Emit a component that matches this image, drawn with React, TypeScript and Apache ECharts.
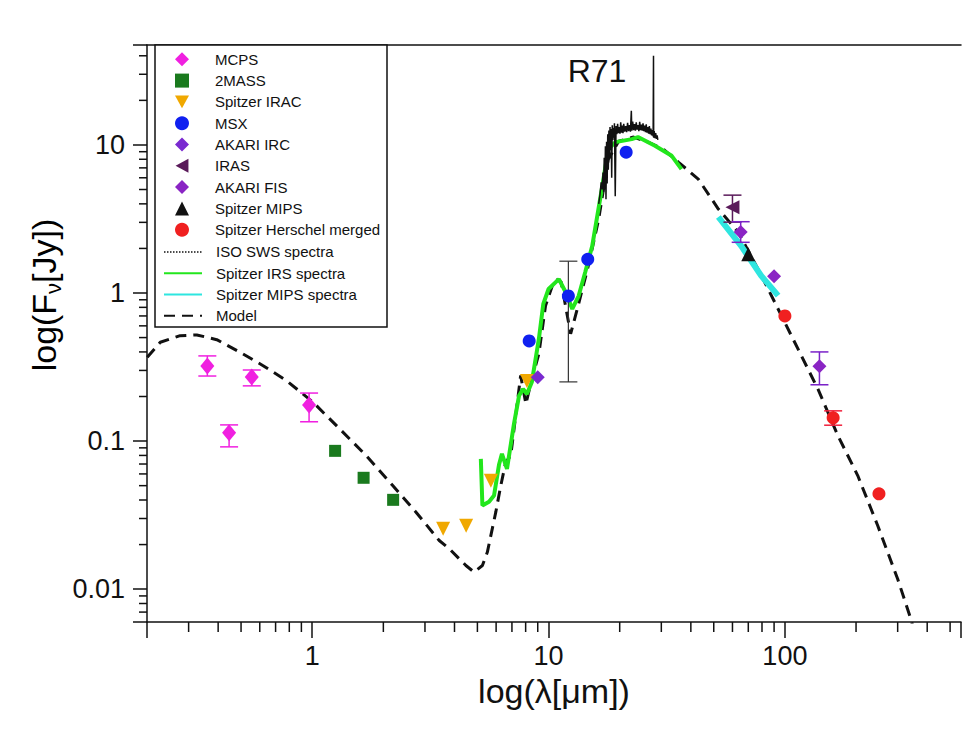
import React, { useEffect, useRef } from "react";
import * as echarts from "echarts";

// ---- axis ranges ----
const X_MIN = 0.2;
const X_MAX = 556;
const Y_MIN = 0.006;
const Y_MAX = 47.3;

// ---- photometry (wavelength in micron, flux in Jy) ----
const mcpsWave = [0.36, 0.445, 0.555, 0.97];
const mcpsFlux = [0.322, 0.114, 0.271, 0.175];
const mcpsLow = [0.275, 0.0914, 0.236, 0.135];
const mcpsHigh = [0.376, 0.1286, 0.302, 0.211];

const twomassWave = [1.25, 1.65, 2.2];
const twomassFlux = [0.0859, 0.0565, 0.0401];

const iracWave = [3.58, 4.48, 5.7, 8.1];
const iracFlux = [0.0256, 0.0268, 0.054, 0.255];

const msxWave = [8.28, 12.13, 14.65, 21.3];
const msxFlux = [0.475, 0.955, 1.69, 8.94];
const msxLow = [null, 0.251, null, null];
const msxHigh = [null, 1.64, null, null];

const akariIrcWave = [9.0];
const akariIrcFlux = [0.27];

const irasWave = [60];
const irasFlux = [3.8];
const irasLow = [3.01];
const irasHigh = [4.58];

const akariFisWave = [65, 90, 140];
const akariFisFlux = [2.58, 1.3, 0.32];
const akariFisLow = [2.2, null, 0.24];
const akariFisHigh = [3.03, null, 0.4];

const mipsWave = [70];
const mipsFlux = [1.83];

const herschelWave = [100, 160, 250];
const herschelFlux = [0.7, 0.1435, 0.044];
const herschelLow = [null, 0.128, null];
const herschelHigh = [null, 0.16, null];

// ---- spectra ----
const isoWave = [16.3, 16.5, 16.7, 16.85, 17.0, 17.1, 17.2, 17.3, 17.4, 17.5, 17.6, 17.7, 17.8, 17.9, 18.0, 18.1, 18.2, 18.3, 18.4, 18.5, 18.6, 18.7, 18.8, 18.9, 19.0, 19.15, 19.3, 19.45, 19.6, 19.75, 19.9, 20.05, 20.2, 20.35, 20.5, 20.65, 20.8, 21.0, 21.2, 21.4, 21.6, 21.8, 22.0, 22.2, 22.4, 22.5, 22.7, 22.9, 23.1, 23.3, 23.5, 23.7, 23.9, 24.1, 24.3, 24.5, 24.7, 24.9, 25.1, 25.3, 25.5, 25.7, 25.9, 26.1, 26.3, 26.5, 26.7, 26.9, 27.1, 27.3, 27.5, 27.7, 27.8, 27.85, 28.0, 28.2, 28.4, 28.6, 28.8, 29.0];
const isoFlux = [4.0, 4.6, 5.6, 5.0, 6.5, 4.8, 8.2, 5.0, 9.8, 4.3, 10.5, 5.5, 11.8, 6.8, 12.5, 8.0, 13.2, 9.2, 12.8, 6.0, 13.6, 10.8, 13.0, 11.2, 14.0, 4.5, 13.4, 11.8, 13.9, 12.0, 13.2, 11.9, 14.2, 12.1, 13.5, 12.0, 13.9, 12.3, 13.4, 12.2, 14.1, 12.4, 13.6, 12.3, 17.0, 12.5, 14.4, 12.6, 13.8, 12.5, 14.2, 12.7, 13.6, 12.4, 14.3, 12.6, 13.7, 12.5, 14.0, 12.4, 13.5, 12.2, 13.8, 12.1, 13.2, 11.9, 13.4, 11.8, 12.9, 11.6, 12.6, 11.4, 40.0, 11.2, 12.4, 11.1, 12.0, 11.0, 11.6, 10.8];

const irsWave = [5.17, 5.25, 5.6, 5.88, 6.17, 6.35, 6.67, 7.14, 7.5, 7.8, 8.1, 8.5, 9.1, 9.5, 10.0, 11.06, 11.8, 12.6, 13.4, 14.3, 15.3, 16.8, 17.9, 19.2, 22.5, 23.9, 28.2, 33.2, 36.5];
const irsFlux = [0.0758, 0.0367, 0.0389, 0.0429, 0.0691, 0.082, 0.0649, 0.1306, 0.202, 0.225, 0.208, 0.251, 0.49, 0.843, 1.064, 1.24, 1.016, 0.78, 0.954, 1.386, 2.075, 5.03, 9.37, 10.45, 10.95, 11.3, 9.86, 8.44, 6.87];

const mipsSpecWave = [52.3, 65.3, 79.3, 93.6];
const mipsSpecFlux = [3.26, 2.08, 1.31, 0.96];

const modelWave = [0.2005, 0.2276, 0.2763, 0.325, 0.3946, 0.4948, 0.62, 0.778, 1.008, 1.306, 1.692, 2.191, 2.75, 3.447, 3.8, 4.47, 4.84, 5.25, 5.51, 5.98, 6.28, 6.59, 6.92, 7.62, 8.02, 8.5, 9.1, 9.71, 10.6, 11.3, 12.4, 13.4, 14.8, 16.3, 17.9, 19.8, 22.9, 26.5, 30.6, 35.4, 43.0, 52.3, 63.4, 77.0, 93.6, 113.6, 137.9, 167.5, 203.3, 246.9, 299.8, 341, 364];
const modelFlux = [0.368, 0.465, 0.515, 0.521, 0.484, 0.398, 0.323, 0.256, 0.183, 0.121, 0.0798, 0.0501, 0.0331, 0.0213, 0.01874, 0.01445, 0.01304, 0.01445, 0.0178, 0.0331, 0.0501, 0.072, 0.0798, 0.277, 0.178, 0.263, 0.388, 0.821, 1.24, 1.19, 0.53, 0.843, 1.57, 3.16, 8.0, 10.6, 11.3, 10.4, 9.37, 7.66, 5.88, 3.69, 2.58, 1.45, 0.78, 0.419, 0.225, 0.109, 0.0585, 0.0269, 0.01175, 0.0063, 0.00428];

const xTickLabels = ["1", "10", "100"];
const yTickLabels = ["0.01", "0.1", "1", "10"];

const pointLegend = ["MCPS", "2MASS", "Spitzer IRAC", "MSX", "AKARI IRC", "IRAS", "AKARI FIS", "Spitzer MIPS", "Spitzer Herschel merged"];
const lineLegend = ["ISO SWS spectra", "Spitzer IRS spectra", "Spitzer MIPS spectra", "Model"];

const FONT = "Liberation Sans, Arial, Helvetica, sans-serif";

const zip = (a: number[], b: number[]) => a.map((v, i) => [v, b[i]]);
const errs = (w: number[], lo: (number | null)[], hi: (number | null)[]) =>
  w.map((v, i) => [v, lo[i], hi[i]]).filter((d) => d[1] != null);

function errorSeries(data: any[], color: string, lw = 1.5) {
  return {
    type: "custom",
    coordinateSystem: "cartesian2d",
    z: 5,
    silent: true,
    data,
    encode: { x: 0, y: [1, 2] },
    renderItem: (params: any, api: any) => {
      const x = api.value(0);
      const p1 = api.coord([x, api.value(1)]);
      const p2 = api.coord([x, api.value(2)]);
      const w = 9;
      const st = { stroke: color, lineWidth: lw };
      return {
        type: "group",
        children: [
          { type: "line", shape: { x1: p1[0], y1: p1[1], x2: p2[0], y2: p2[1] }, style: st },
          { type: "line", shape: { x1: p1[0] - w, y1: p1[1], x2: p1[0] + w, y2: p1[1] }, style: st },
          { type: "line", shape: { x1: p2[0] - w, y1: p2[1], x2: p2[0] + w, y2: p2[1] }, style: st },
        ],
      };
    },
  };
}

function minorValues(lo: number, hi: number) {
  const out: number[] = [];
  for (let e = -4; e <= 4; e++) {
    for (let m = 2; m <= 9; m++) {
      const v = m * Math.pow(10, e);
      if (v > lo * 1.0001 && v < hi * 0.9999) out.push(v);
    }
  }
  return out;
}

function fmtPow(v: number) {
  const l = Math.log10(v);
  if (Math.abs(l - Math.round(l)) > 1e-6) return "";
  const s = String(Number(Math.pow(10, Math.round(l)).toPrecision(3)));
  const all = [...xTickLabels, ...yTickLabels];
  return all.includes(s) ? s : "";
}

export default function App() {
  const ref = useRef<HTMLDivElement>(null);
  useEffect(() => {
    if (!ref.current) return;
    const chart = echarts.init(ref.current, null, { renderer: "svg" });

    const scatter = (name: string, w: number[], f: number[], symbol: string, color: string, size: any, rotate = 0) => ({
      name,
      type: "scatter",
      data: zip(w, f),
      symbol,
      symbolSize: size,
      symbolRotate: rotate,
      itemStyle: { color, opacity: 1 },
      z: 6,
    });

    const xMinor = minorValues(X_MIN, X_MAX).map((v) => [v, Y_MIN]);
    const yMinor = minorValues(Y_MIN, Y_MAX).map((v) => [X_MIN, v]);

    const ROW = 21.4;
    const ITEM_H = 15.1;
    const LEG_TOP = 51.8;
    const icons: Record<string, string> = {
      "Spitzer IRAC": "path://M0,0 L12,0 L6,11 Z",
      IRAS: "path://M11,0 L11,12 L0,6 Z",
    };

    const option: any = {
      animation: false,
      backgroundColor: "#ffffff",
      textStyle: { fontFamily: FONT },
      title: {
        text: "R71",
        left: 592,
        top: 50,
        textAlign: "center",
        textStyle: { fontFamily: FONT, fontSize: 32, fontWeight: "normal", color: "#111" },
      },
      grid: { left: 147, top: 45, right: 0, bottom: 114, containLabel: false },
      xAxis: [
        {
          type: "log",
          min: X_MIN,
          max: X_MAX,
          name: "log(λ[μm])",
          nameLocation: "middle",
          nameGap: 48,
          nameTextStyle: { fontFamily: FONT, fontSize: 34, color: "#111" },
          axisLine: { lineStyle: { color: "#111", width: 1.5 } },
          axisTick: { inside: false, length: 16, lineStyle: { color: "#111", width: 1.5 } },
          axisLabel: { formatter: fmtPow, fontSize: 27, color: "#111", margin: 20, fontFamily: FONT },
          splitLine: { show: false },
          minorTick: { show: false },
        },
        {
          type: "log",
          position: "top",
          min: X_MIN,
          max: X_MAX,
          axisLine: { lineStyle: { color: "#111", width: 1.5 } },
          axisTick: { show: false },
          axisLabel: { show: false },
          splitLine: { show: false },
        },
      ],
      yAxis: {
        type: "log",
        min: Y_MIN,
        max: Y_MAX,
        axisLine: { lineStyle: { color: "#111", width: 1.5 } },
        axisTick: { inside: false, length: 14, lineStyle: { color: "#111", width: 1.5 } },
        axisLabel: { formatter: fmtPow, fontSize: 27, color: "#111", margin: 22, fontFamily: FONT },
        splitLine: { show: false },
      },
      legend: [
        {
          orient: "vertical",
          left: 175,
          top: LEG_TOP,
          padding: 0,
          itemGap: ROW - ITEM_H,
          itemWidth: 14,
          itemHeight: 14,
          z: 10,
          textStyle: { fontFamily: FONT, fontSize: 15, lineHeight: 14, color: "#111", padding: [0, 0, 0, 21] },
          data: pointLegend.map((n) => (icons[n] ? { name: n, icon: icons[n] } : { name: n })),
        },
        {
          orient: "vertical",
          left: 163,
          top: LEG_TOP + ROW * pointLegend.length,
          padding: 0,
          itemGap: ROW - ITEM_H,
          itemWidth: 38,
          itemHeight: 14,
          z: 10,
          textStyle: { fontFamily: FONT, fontSize: 15, lineHeight: 14, color: "#111", padding: [0, 0, 0, 9] },
          data: lineLegend.map((n, i) => ({
            name: n,
            itemStyle: { opacity: 0, color: "rgba(0,0,0,0)", borderWidth: 0 },
            ...(i === 0 ? { lineStyle: { type: "dotted", width: 1.5, color: "#111" } } : {}),
          })),
        },
      ],
      graphic: [
        {
          type: "rect",
          z: 8,
          shape: { x: 155, y: 45, width: 232, height: 282 },
          style: { fill: "#ffffff", stroke: "#111", lineWidth: 1.5 },
        },
        {
          type: "text",
          x: 44,
          y: 295,
          rotation: Math.PI / 2,
          style: {
            text: "{a|log(F}{s|ν}{a|[Jy])}",
            align: "center",
            verticalAlign: "middle",
            rich: {
              a: { fontFamily: FONT, fontSize: 34, color: "#111", lineHeight: 40, verticalAlign: "middle" },
              s: { fontFamily: FONT, fontSize: 22, color: "#111", lineHeight: 22, verticalAlign: "bottom" },
            },
          },
        },
      ],
      series: [
        {
          name: "Model",
          type: "line",
          data: zip(modelWave, modelFlux),
          symbol: "none",
          z: 3,
          lineStyle: { color: "#111", width: 3, type: [11, 7] },
          itemStyle: { color: "#111" },
        },
        {
          name: "Spitzer IRS spectra",
          type: "line",
          data: zip(irsWave, irsFlux),
          symbol: "none",
          z: 4,
          lineStyle: { color: "#22e61c", width: 4 },
          itemStyle: { color: "#22e61c" },
        },
        {
          name: "ISO SWS spectra",
          type: "line",
          data: zip(isoWave, isoFlux),
          symbol: "none",
          z: 4,
          lineStyle: { color: "#111", width: 1.5 },
          itemStyle: { color: "#111" },
        },
        {
          name: "Spitzer MIPS spectra",
          type: "line",
          data: zip(mipsSpecWave, mipsSpecFlux),
          symbol: "none",
          z: 4,
          lineStyle: { color: "#2ee6e0", width: 6 },
          itemStyle: { color: "#2ee6e0" },
        },
        errorSeries(errs(mcpsWave, mcpsLow, mcpsHigh), "#f020e0"),
        errorSeries(errs(msxWave, msxLow, msxHigh), "#333333", 1.2),
        errorSeries(errs(irasWave, irasLow, irasHigh), "#5a1a5a"),
        errorSeries(errs(akariFisWave, akariFisLow, akariFisHigh), "#7a22c8"),
        errorSeries(errs(herschelWave, herschelLow, herschelHigh), "#f0203c"),
        scatter("MCPS", mcpsWave, mcpsFlux, "diamond", "#f020e0", [14, 17]),
        scatter("2MASS", twomassWave, twomassFlux, "rect", "#1a7a1e", 12),
        scatter("Spitzer IRAC", iracWave, iracFlux, "triangle", "#f0a800", 14, 180),
        scatter("MSX", msxWave, msxFlux, "circle", "#1020f0", 13),
        scatter("AKARI IRC", akariIrcWave, akariIrcFlux, "diamond", "#7a2ad0", 14),
        scatter("IRAS", irasWave, irasFlux, "triangle", "#5a1a5a", 14, 90),
        scatter("AKARI FIS", akariFisWave, akariFisFlux, "diamond", "#8a24c4", 14),
        scatter("Spitzer MIPS", mipsWave, mipsFlux, "triangle", "#111111", 14),
        scatter("Spitzer Herschel merged", herschelWave, herschelFlux, "circle", "#f02020", 13),
        {
          type: "custom",
          coordinateSystem: "cartesian2d",
          clip: false,
          silent: true,
          z: 1,
          data: xMinor,
          encode: { x: 0, y: 1 },
          renderItem: (params: any, api: any) => {
            const p = api.coord([api.value(0), api.value(1)]);
            return { type: "line", shape: { x1: p[0], y1: p[1], x2: p[0], y2: p[1] + 10 }, style: { stroke: "#111", lineWidth: 1.5 } };
          },
        },
        {
          type: "custom",
          coordinateSystem: "cartesian2d",
          clip: false,
          silent: true,
          z: 1,
          data: yMinor,
          encode: { x: 0, y: 1 },
          renderItem: (params: any, api: any) => {
            const p = api.coord([api.value(0), api.value(1)]);
            return { type: "line", shape: { x1: p[0] - 8, y1: p[1], x2: p[0], y2: p[1] }, style: { stroke: "#111", lineWidth: 1.5 } };
          },
        },
      ],
    };

    chart.setOption(option);
    return () => chart.dispose();
  }, []);

  return (
    <div
      ref={ref}
      style={{ position: "fixed", left: 0, top: 0, width: 964, height: 736, background: "#fff" }}
    />
  );
}
